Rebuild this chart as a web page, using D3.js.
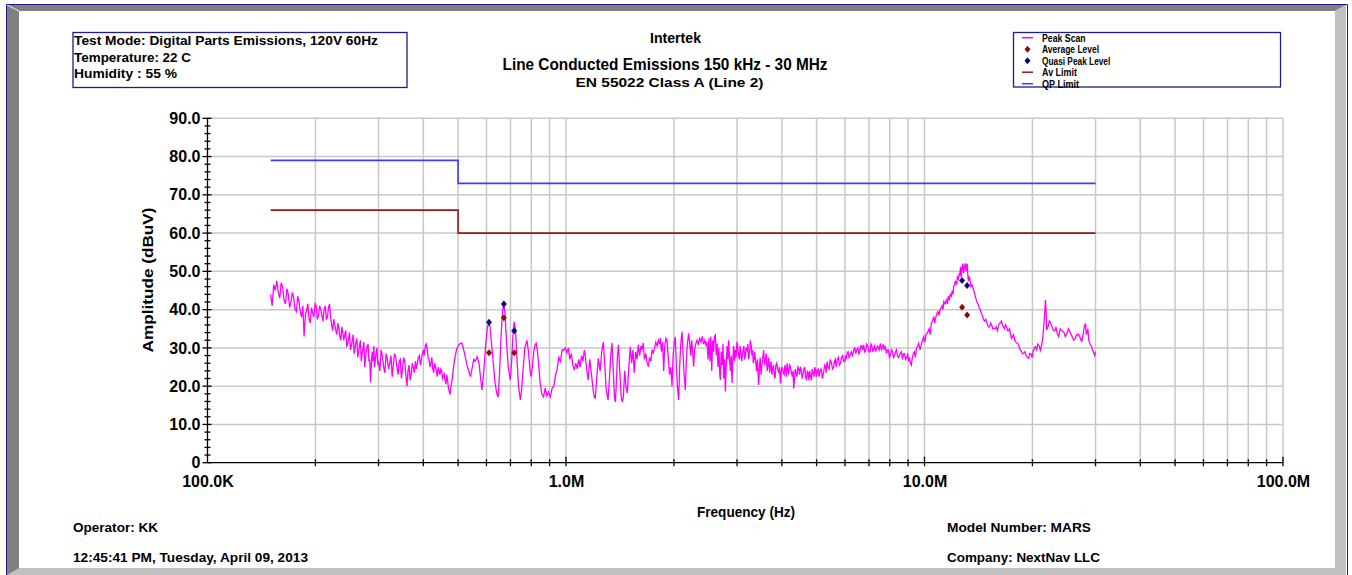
<!DOCTYPE html>
<html><head><meta charset="utf-8">
<script src="https://cdn.jsdelivr.net/npm/d3@7"></script>
<style>
body{margin:0;background:#fff}
svg{display:block}
text{font-family:"Liberation Sans",Arial,sans-serif;font-weight:bold;fill:#000}
</style>
</head><body>
<svg id="c" width="1352" height="575"></svg>
<script>
// ---------------- data ----------------
const infoLines = ["Test Mode: Digital Parts Emissions, 120V 60Hz", "Temperature: 22 C", "Humidity : 55 %"];
const titleLines = ["Intertek", "Line Conducted Emissions 150 kHz - 30 MHz", "EN 55022 Class A (Line 2)"];
const legendLabels = ["Peak Scan", "Average Level", "Quasi Peak Level", "Av Limit", "QP Limit"];
const footerLeft = ["Operator: KK", "12:45:41 PM, Tuesday, April 09, 2013"];
const footerRight = ["Model Number: MARS", "Company: NextNav LLC"];
const xAxisTitle = "Frequency (Hz)";
const yAxisTitle = "Amplitude (dBuV)";
const xTickValues = [0.1, 1, 10, 100];             // MHz
const xTickLabels = ["100.0K", "1.0M", "10.0M", "100.0M"];
const yTickValues = [0, 10, 20, 30, 40, 50, 60, 70, 80, 90];
const yTickLabels = ["0", "10.0", "20.0", "30.0", "40.0", "50.0", "60.0", "70.0", "80.0", "90.0"];

// limits (MHz, dBuV)
const qpLimit = [[0.15, 79], [0.5, 79], [0.5, 73], [30, 73]];
const avLimit = [[0.15, 66], [0.5, 66], [0.5, 60], [30, 60]];

// measured levels (MHz, dBuV)
const quasiPeak = [[0.610, 36.7], [0.671, 41.5], [0.717, 34.5], [12.73, 47.6], [13.15, 46.3]];
const averageLvl = [[0.610, 28.7], [0.671, 37.9], [0.717, 28.7], [12.73, 40.6], [13.15, 38.6]];

// peak scan trace (MHz, dBuV) - main read-off points
const peakScanMain = [
[0.150,44.0],[0.153,46.5],[0.156,47.5],[0.159,43.0],[0.162,46.0],[0.165,41.5],[0.168,44.0],[0.171,42.0],
[0.174,43.0],[0.177,39.5],[0.180,42.0],[0.183,38.0],[0.186,33.0],[0.189,40.0],[0.192,37.5],[0.195,40.5],
[0.198,38.0],[0.201,41.0],[0.204,38.5],[0.207,40.0],[0.210,37.0],[0.213,41.0],[0.216,38.0],[0.219,41.5],
[0.222,36.0],[0.225,37.5],[0.228,34.5],[0.231,36.5],[0.234,33.0],[0.237,35.5],[0.240,32.0],[0.243,34.5],
[0.246,31.0],[0.249,34.0],[0.252,30.5],[0.255,33.5],[0.258,30.0],[0.261,32.5],[0.264,29.0],[0.267,32.0],
[0.270,28.5],[0.273,31.5],[0.276,27.5],[0.279,30.5],[0.282,26.5],[0.285,21.0],[0.288,29.0],[0.291,30.5],
[0.294,27.0],[0.297,30.0],[0.300,26.0],
[0.305,29.5],[0.310,25.0],[0.315,28.5],[0.320,24.5],[0.325,28.0],[0.330,25.5],[0.335,27.5],[0.340,23.0],
[0.345,27.0],[0.350,24.5],[0.355,26.5],[0.360,20.0],[0.365,25.5],[0.370,23.0],[0.375,25.0],[0.380,26.5],
[0.385,26.0],[0.390,28.0],[0.395,27.0],[0.400,29.5],[0.405,30.5],[0.410,29.5],[0.415,27.0],[0.420,26.0],
[0.425,24.5],[0.430,26.0],[0.435,24.0],[0.440,25.0],[0.445,23.0],[0.450,24.0],[0.455,22.5],[0.460,21.5],
[0.465,23.0],[0.470,19.5],[0.475,18.0],[0.480,21.0],[0.485,24.5],[0.490,27.5],[0.495,29.5],[0.500,30.5],
[0.505,31.0],[0.512,31.3],[0.520,29.0],[0.528,26.0],[0.535,24.0],[0.541,22.5],[0.548,25.0],[0.553,27.0],
[0.558,26.5],[0.565,27.7],[0.572,26.0],[0.578,22.0],[0.583,19.0],[0.590,24.0],[0.597,31.0],[0.603,35.0],
[0.608,36.5],[0.614,35.5],[0.620,31.0],[0.627,26.0],[0.634,21.0],[0.641,18.0],[0.647,17.2],[0.653,24.0],
[0.659,33.0],[0.665,39.5],[0.670,41.6],[0.676,39.0],[0.683,31.0],[0.690,25.0],[0.699,21.6],[0.705,26.0],
[0.711,33.0],[0.717,36.8],[0.723,34.5],[0.730,27.0],[0.737,20.0],[0.746,16.4],[0.752,19.0],[0.760,25.0],
[0.768,30.0],[0.778,32.0],[0.786,29.0],[0.793,24.5],[0.799,22.5],[0.806,25.0],[0.813,29.0],[0.820,30.8],
[0.826,31.2],[0.833,29.0],[0.840,25.0],[0.848,20.5],[0.856,18.0],[0.866,17.2],[0.875,19.5],[0.884,17.5],
[0.893,18.5],[0.904,17.2],[0.915,19.5],[0.925,20.0],[0.935,23.0],[0.944,24.2],[0.955,27.5],[0.965,26.5],
[0.975,29.5],[0.985,29.4],[0.995,30.0],
[1.005,28.7],[1.015,30.0],[1.025,27.0],[1.035,28.5],[1.045,25.5],[1.055,24.2],[1.065,26.0],[1.075,24.5],
[1.085,27.0],[1.095,25.0],[1.105,28.0],[1.115,26.5],[1.125,29.4],[1.132,28.0],[1.140,25.0],[1.153,21.6],
[1.165,27.0],[1.178,23.0],[1.190,19.0],[1.200,17.0],[1.207,16.9],[1.218,22.0],[1.230,27.3],[1.245,24.0],
[1.258,29.0],[1.271,31.6],[1.282,26.0],[1.295,19.0],[1.310,16.4],[1.322,22.0],[1.333,28.0],[1.344,31.3],
[1.355,24.0],[1.365,17.0],[1.373,15.9],[1.382,21.0],[1.392,28.0],[1.401,30.8],[1.412,24.0],[1.425,17.5],
[1.435,15.9],[1.445,17.0],[1.458,24.0],[1.470,20.0],[1.483,18.2],[1.497,25.0],[1.511,30.3],[1.524,26.0],
[1.538,29.5],[1.550,23.5],[1.565,29.0],[1.578,27.0],[1.591,30.8],[1.605,28.0],[1.618,30.5],[1.630,29.5],
[1.643,31.3],[1.655,27.0],[1.670,28.5],[1.684,26.0],[1.697,25.1],[1.710,27.5],[1.724,26.5],[1.738,29.5],
[1.752,28.7],[1.766,30.0],[1.780,31.5],[1.795,30.5],[1.810,32.0],[1.823,31.0],[1.833,32.6],[1.846,29.0],
[1.860,31.5],[1.873,24.0],[1.886,30.5],[1.900,32.5],[1.913,32.0],[1.930,27.0],[1.945,23.0],[1.960,25.0],
[1.976,19.9],[1.990,28.0],[2.005,31.5],[2.018,32.9],
[2.030,26.0],[2.045,20.0],[2.062,16.4],[2.075,25.0],[2.090,31.0],[2.107,34.2],[2.120,29.0],[2.135,23.0],
[2.152,19.0],[2.165,26.0],[2.180,31.0],[2.198,33.8],[2.212,31.5],[2.228,28.0],[2.242,32.0],[2.256,29.0],
[2.270,25.1],[2.285,29.5],[2.300,31.0],[2.320,32.0],[2.340,31.0],[2.360,32.5],[2.380,31.5],[2.400,33.0],
[2.420,31.0],[2.440,32.0],[2.460,30.5],[2.474,31.6],[2.490,27.0],[2.505,32.5],[2.520,26.5],[2.535,33.0],
[2.550,24.0],[2.565,32.0],[2.580,29.0],[2.595,33.0],[2.610,33.4],[2.625,28.0],[2.640,31.0],[2.655,25.0],
[2.670,30.0],[2.685,23.0],[2.695,21.6],[2.710,29.0],[2.725,25.5],[2.740,31.0],[2.755,22.0],[2.770,27.0],
[2.783,18.6],[2.800,26.0],[2.815,30.5],[2.830,27.0],[2.842,32.0],[2.860,27.0],[2.875,24.0],[2.890,28.0],
[2.905,20.8],[2.920,27.0],[2.935,30.5],[2.950,26.5],[2.965,29.5],[2.980,27.5],[3.000,31.6],
[3.030,28.0],[3.060,30.5],[3.090,26.5],[3.120,29.5],[3.150,27.0],[3.180,30.0],[3.200,29.4],[3.230,27.0],
[3.267,32.0],[3.300,28.0],[3.330,26.0],[3.360,29.0],[3.400,24.0],[3.446,20.3],[3.480,27.5],[3.520,25.5],
[3.559,29.4],[3.600,27.0],[3.640,24.0],[3.680,27.5],[3.715,25.1],[3.750,23.0],[3.790,25.5],[3.830,22.0],
[3.870,26.0],[3.920,23.5],[3.963,20.8],[4.010,25.0],[4.060,23.0],[4.100,24.5],[4.137,26.0],[4.180,23.0],
[4.230,25.0],[4.280,22.5],[4.316,19.4],[4.360,24.5],[4.410,22.5],[4.460,24.5],[4.506,25.1],[4.560,22.0],
[4.610,24.5],[4.660,22.5],[4.710,24.0],[4.760,21.5],[4.806,22.9],[4.860,24.5],[4.920,22.5],[4.970,24.0],
[5.017,24.2],
[5.080,22.5],[5.150,24.5],[5.234,23.8],[5.300,25.0],[5.348,26.4],[5.420,24.5],[5.500,26.0],[5.580,25.0],
[5.640,27.0],[5.705,26.8],[5.790,25.5],[5.870,27.5],[5.950,26.5],[6.020,28.0],[6.081,28.6],[6.160,27.5],
[6.250,29.0],[6.346,29.4],[6.430,28.5],[6.520,30.0],[6.600,29.0],[6.680,30.5],[6.768,30.8],[6.860,29.5],
[6.950,30.5],[7.050,29.0],[7.130,30.5],[7.217,29.9],[7.300,29.0],[7.400,30.5],[7.534,31.2],[7.630,30.0],
[7.720,29.5],[7.830,28.5],[7.930,29.5],[8.035,28.1],[8.150,29.0],[8.250,28.0],[8.350,29.5],[8.460,27.5],
[8.567,28.6],[8.680,27.0],[8.800,28.5],[8.920,27.5],[9.030,26.5],[9.135,26.0],[9.250,27.5],[9.370,29.0],
[9.500,30.0],[9.634,31.2],[9.800,31.0],[9.950,32.9],
[10.10,33.5],[10.30,35.0],[10.45,36.5],[10.61,38.2],[10.75,38.0],[10.90,39.5],[11.05,40.0],[11.20,41.0],
[11.32,42.1],[11.50,42.5],[11.65,43.5],[11.80,44.0],[11.95,45.0],[12.06,46.0],[12.20,47.5],[12.35,48.5],
[12.50,49.5],[12.60,51.2],[12.70,50.0],[12.80,52.0],[12.90,50.5],[13.01,52.1],[13.10,51.0],[13.20,49.5],
[13.29,48.6],[13.40,47.5],[13.55,46.5],[13.72,45.1],[13.90,43.0],[14.10,41.5],[14.32,39.9],[14.50,38.5],
[14.70,37.0],[14.95,36.4],[15.20,35.5],[15.40,36.0],[15.61,35.1],[15.85,35.5],[16.10,36.0],[16.30,36.5],
[16.47,36.4],[16.70,35.0],[16.95,35.5],[17.15,34.5],[17.37,33.8],[17.60,33.0],[17.85,32.0],[18.13,31.2],
[18.40,30.0],[18.65,29.0],[18.92,28.6],[19.20,28.0],[19.53,27.3],[19.80,28.5],[20.10,29.0],[20.39,30.3],
[20.70,31.0],[21.06,29.4],[21.40,33.0],[21.75,42.5],[21.90,34.7],[22.30,37.0],[22.70,35.5],[23.10,34.5],
[23.44,33.8],[23.90,35.0],[24.45,34.2],[24.90,33.5],[25.50,34.0],[26.08,32.0],[26.60,33.5],[27.23,32.5],
[27.70,33.5],[28.12,36.4],[28.40,34.0],[28.72,32.0],[29.20,30.5],[29.66,28.6],[30.00,29.0]
];

// peak scan trace - additional read-off points in the noisy stretches
const peakScanDetail = [
[0.1515,41.0],[0.1545,45.0],[0.1575,44.5],[0.1605,47.0],[0.1635,42.5],[0.1665,45.5],[0.1695,40.5],[0.1725,44.5],
[0.1755,40.0],[0.1785,43.5],[0.1815,39.5],[0.1845,41.0],[0.1875,38.5],[0.1905,41.5],[0.1935,36.5],[0.1965,39.0],
[0.1995,41.5],[0.2025,37.5],[0.2055,41.0],[0.2085,38.5],[0.2115,40.0],[0.2145,37.5],[0.2175,40.5],[0.2205,38.0],
[0.2235,34.5],[0.2265,36.0],[0.2295,33.5],[0.2325,35.0],[0.2355,32.0],[0.2385,34.0],[0.2415,33.5],[0.2445,30.5],
[0.2475,32.5],[0.2505,29.5],[0.2535,32.0],[0.2565,28.5],[0.2595,31.5],[0.2625,27.5],[0.2655,30.5],[0.2685,26.5],
[0.2715,30.0],[0.2745,25.0],[0.2775,29.5],[0.2805,31.0],[0.2835,27.0],[0.2865,26.0],[0.2895,26.5],[0.2925,25.0],
[0.2955,29.0],[0.2985,25.5],
[0.3025,24.0],[0.3075,28.0],[0.3125,23.5],[0.3175,27.0],[0.3225,26.0],[0.3275,22.5],[0.3325,28.5],[0.3375,25.0],
[0.3425,26.5],[0.3475,22.0],[0.3525,27.5],[0.3575,23.0],[0.3625,24.0],[0.3675,21.5],[0.3725,26.0],[0.3775,23.5],
[0.3825,24.5],[0.3875,27.5],[0.3925,25.5],[0.3975,28.5],[0.4025,28.0],[0.4075,31.0],[0.4125,27.5],[0.4175,25.0],
[0.4225,27.5],[0.4275,23.5],[0.4325,25.0],[0.4375,22.5],[0.4425,24.0],[0.4475,24.5],[0.4525,22.0],[0.4575,23.5],
[0.4625,20.5],[0.4675,21.5],[0.4725,18.5],[0.4775,20.0],[0.4825,22.5],[0.4875,26.0],[0.4925,28.5],[0.4975,30.0],
[3.015,30.0],[3.045,27.0],[3.075,29.0],[3.105,28.0],[3.135,30.5],[3.165,28.0],[3.215,31.0],[3.250,28.5],
[3.285,30.5],[3.315,29.5],[3.345,27.0],[3.380,26.5],[3.420,27.0],[3.465,25.0],[3.500,23.0],[3.540,27.5],
[3.580,25.5],[3.620,28.5],[3.660,25.5],[3.700,23.5],[3.735,26.5],[3.770,24.5],[3.810,23.0],[3.850,25.5],
[3.895,24.5],[3.940,25.0],[3.985,24.0],[4.035,23.5],[4.080,25.5],[4.120,22.5],[4.160,24.5],[4.205,25.5],
[4.255,23.5],[4.300,24.0],[4.340,22.0],[4.385,23.5],[4.435,25.0],[4.485,23.0],[4.535,24.0],[4.585,23.0],
[4.635,25.0],[4.685,21.5],[4.735,23.5],[4.785,24.0],[4.835,21.5],[4.890,23.5],[4.945,25.0],[4.995,22.5],
[5.050,24.5],
[5.11,24.0],[5.19,22.0],[5.27,25.5],[5.32,23.5],[5.38,25.0],[5.46,27.0],[5.54,24.5],[5.61,26.5],
[5.67,25.0],[5.75,27.5],[5.83,26.0],[5.91,28.0],[5.99,26.5],[6.05,27.0],[6.12,29.0],[6.20,28.0],
[6.30,28.0],[6.39,30.0],[6.47,29.5],[6.56,28.5],[6.64,30.5],[6.72,29.5],[6.81,29.0],[6.90,31.0],
[7.00,29.0],[7.09,31.0],[7.17,29.0],[7.26,30.5],[7.35,30.0],[7.47,29.5],[7.58,29.5],[7.67,31.0],
[7.77,30.5],[7.88,29.5],[7.98,27.5],[8.09,29.5],[8.20,27.5],[8.30,29.0],[8.40,28.0],[8.51,28.0],
[8.62,29.0],[8.74,28.5],[8.86,27.0],[8.97,28.5],[9.08,27.5],[9.19,25.5],[9.31,28.5],[9.43,27.5],
[9.57,30.5],[9.72,29.5],[9.87,32.0],
[10.02,31.5],[10.20,34.0],[10.38,33.5],[10.53,37.0],[10.68,36.5],[10.83,39.0],[10.98,38.5],[11.12,40.5],
[11.26,40.0],[11.41,41.5],[11.58,41.5],[11.72,42.5],[11.88,43.5],[12.00,44.0],[12.13,46.5],[12.28,46.5],
[12.42,48.0],[12.55,49.0],[12.65,48.5],[12.75,51.5],[12.85,49.5],[12.95,51.5],[13.05,50.0],[13.15,52.0],
[13.25,47.5],[13.35,48.5],[13.48,46.0],[13.63,46.0],[13.81,44.0],[14.00,42.0],[14.21,40.5],[14.41,39.0],
[14.60,37.5],[14.82,37.5],[15.07,35.5],[15.30,36.5],[15.50,35.0],[15.73,35.0],[15.97,34.5],[16.20,36.5],
[16.38,37.0],[16.58,35.5],[16.83,36.0],[17.05,34.5],[17.26,35.0],[17.48,32.5],[17.72,33.5],[17.99,31.5],
[18.27,31.0],[18.52,29.5],[18.78,28.5],[19.06,29.0],[19.36,27.5],[19.66,28.5],[19.95,27.5],[20.25,30.0],
[20.55,29.5],[20.88,30.5],[21.25,31.0],[21.60,38.0],[21.83,40.0],[22.10,35.5],[22.50,36.5],[22.90,34.5],
[23.27,35.5],[23.67,33.0],[24.17,34.5],[24.70,33.0],[25.20,35.0],[25.80,33.0],[26.35,32.5],[26.90,33.5],
[27.45,31.5],[27.90,35.5],[28.26,33.5],[28.56,35.0],[28.95,31.0],[29.43,29.5],[29.85,28.0]
];

// ---------------- drawing ----------------
const peakScan = peakScanMain.concat(peakScanDetail).sort((a, b) => a[0] - b[0]);
const svg = d3.select("#c");
const W = 1352, H = 575;
const FONT = '"Liberation Sans",Arial,sans-serif';
svg.append("rect").attr("width", W).attr("height", H).attr("fill", "#fff");

// window-like bevelled frame
const fr = svg.append("g");
fr.append("polygon").attr("points", "7,5 19,11 19,575 7,575").attr("fill", "#808080");
fr.append("polygon").attr("points", "7,5 1346,5 1335,11 19,11").attr("fill", "#808080");
fr.append("polygon").attr("points", "1346,5 1346,575 1335,575 1335,11").attr("fill", "#c0c0c0");
fr.append("polygon").attr("points", "19,568 1335,568 1346,575 7,575").attr("fill", "#c0c0c0");
fr.append("line").attr("x1", 7).attr("y1", 5).attr("x2", 19).attr("y2", 11).attr("stroke", "#e8e8e8").attr("stroke-width", 1);
fr.append("path").attr("d", "M6.5,575 V4.5 H1347.5 V575").attr("fill", "none").attr("stroke", "#1c1c8c").attr("stroke-width", 1);

// scales
const x = d3.scaleLog().domain([0.1, 100]).range([207.5, 1283]);
const y = d3.scaleLinear().domain([0, 90]).range([462.7, 118.3]);

// grid
const grid = svg.append("g").attr("stroke", "#c8c8c8").attr("stroke-width", 1.5);
x.ticks().filter(v => v > 0.1).forEach(v => {
  grid.append("line").attr("x1", x(v)).attr("x2", x(v)).attr("y1", y(90)).attr("y2", y(0));
});
yTickValues.filter(v => v > 0).forEach(v => {
  grid.append("line").attr("x1", x(0.1)).attr("x2", x(100)).attr("y1", y(v)).attr("y2", y(v));
});

// limit lines
const line = d3.line().x(d => x(d[0])).y(d => y(d[1]));
svg.append("path").attr("d", line(avLimit)).attr("fill", "none").attr("stroke", "#a01414").attr("stroke-width", 1.6);
svg.append("path").attr("d", line(qpLimit)).attr("fill", "none").attr("stroke", "#3c3cff").attr("stroke-width", 1.6);

// peak scan
svg.append("path").attr("d", line(peakScan)).attr("fill", "none").attr("stroke", "#ff00ff")
  .attr("stroke-width", 1.3).attr("stroke-linejoin", "miter");

// markers
function diamond(cx, cy, r) {
  return `M${cx},${cy - r - 0.5} L${cx + r},${cy} L${cx},${cy + r + 0.5} L${cx - r},${cy} Z`;
}
svg.append("g").selectAll("path").data(averageLvl).join("path")
  .attr("d", d => diamond(x(d[0]), y(d[1]), 3)).attr("fill", "#8b0a0a");
svg.append("g").selectAll("path").data(quasiPeak).join("path")
  .attr("d", d => diamond(x(d[0]), y(d[1]), 3)).attr("fill", "#0a0a80");

// axes
const xAxis = d3.axisBottom(x).tickValues(xTickValues)
  .tickFormat((d, i) => xTickLabels[i]).tickSize(0).tickPadding(13);
const gx = svg.append("g").attr("transform", `translate(0,${y(0)})`).call(xAxis);
gx.select(".domain").remove();
gx.selectAll("text").attr("font-size", 16).attr("font-family", FONT).attr("font-weight", "bold").attr("fill", "#000");

const yAxis = d3.axisLeft(y).tickValues(yTickValues)
  .tickFormat((d, i) => yTickLabels[i]).tickSize(0).tickPadding(7);
const gy = svg.append("g").attr("transform", `translate(${x(0.1)},0)`).call(yAxis);
gy.select(".domain").remove();
gy.selectAll("text").attr("font-size", 16).attr("font-family", FONT).attr("font-weight", "bold").attr("fill", "#000");

// axis lines and tick marks
const ax = svg.append("g").attr("stroke", "#000").attr("stroke-width", 1.3);
ax.append("line").attr("x1", x(0.1)).attr("x2", x(100)).attr("y1", y(0)).attr("y2", y(0));
ax.append("line").attr("x1", x(0.1)).attr("x2", x(0.1)).attr("y1", y(0)).attr("y2", y(90));
x.ticks().filter(v => v > 0.1).forEach(v => {
  const major = xTickValues.includes(v);
  ax.append("line").attr("x1", x(v)).attr("x2", x(v)).attr("y1", y(0) - (major ? 6 : 3.5)).attr("y2", y(0) + 3.5);
});
d3.range(0, 91, 2).forEach(v => {
  const major = v % 10 === 0;
  ax.append("line").attr("x1", x(0.1) - (major ? 5 : 3)).attr("x2", x(0.1) + (major ? 4 : 3)).attr("y1", y(v)).attr("y2", y(v));
});

// axis titles
svg.append("text").attr("x", 746).attr("y", 517).attr("text-anchor", "middle").attr("font-size", 14)
  .attr("textLength", 98).attr("lengthAdjust", "spacingAndGlyphs").text(xAxisTitle);
svg.append("text").attr("transform", "translate(153,280) rotate(-90)").attr("text-anchor", "middle")
  .attr("font-size", 14).attr("textLength", 145).attr("lengthAdjust", "spacingAndGlyphs").text(yAxisTitle);

// titles
const titleSpecs = [{cx: 675.5, y: 43.3, fs: 15, w: 51}, {cx: 665, y: 70, fs: 16, w: 325}, {cx: 669.5, y: 86.7, fs: 12, w: 188}];
titleLines.forEach((t, i) => {
  const s = titleSpecs[i];
  svg.append("text").attr("x", s.cx - s.w / 2).attr("y", s.y).attr("font-size", s.fs)
    .attr("textLength", s.w).attr("lengthAdjust", "spacingAndGlyphs").text(t);
});

// info box
svg.append("rect").attr("x", 73).attr("y", 32.5).attr("width", 334).attr("height", 55)
  .attr("fill", "none").attr("stroke", "#1c1c8c").attr("stroke-width", 1.3);
const infoW = [304, 117, 103];
const infoY = [45.3, 62, 78.3];
infoLines.forEach((t, i) => {
  svg.append("text").attr("x", 74).attr("y", infoY[i]).attr("font-size", 13.5)
    .attr("textLength", infoW[i]).attr("lengthAdjust", "spacingAndGlyphs").text(t);
});

// legend box
svg.append("rect").attr("x", 1013.5).attr("y", 32.5).attr("width", 267).attr("height", 54.5)
  .attr("fill", "none").attr("stroke", "#1c1c8c").attr("stroke-width", 1.3);
const legY = [37.7, 49.3, 60.7, 72.2, 83.7];
const legW = [43.7, 57, 68.3, 35, 37];
legendLabels.forEach((t, i) => {
  svg.append("text").attr("x", 1042).attr("y", legY[i] + 4).attr("font-size", 10.5)
    .attr("textLength", legW[i]).attr("lengthAdjust", "spacingAndGlyphs").text(t);
});
const lg = svg.append("g");
lg.append("line").attr("x1", 1022).attr("x2", 1033).attr("y1", legY[0]).attr("y2", legY[0]).attr("stroke", "#ff00ff").attr("stroke-width", 1.5);
lg.append("path").attr("d", diamond(1027.5, legY[1], 3)).attr("fill", "#8b0a0a");
lg.append("path").attr("d", diamond(1027.5, legY[2], 3)).attr("fill", "#0a0a80");
lg.append("line").attr("x1", 1022).attr("x2", 1033).attr("y1", legY[3]).attr("y2", legY[3]).attr("stroke", "#a01414").attr("stroke-width", 1.5);
lg.append("line").attr("x1", 1022).attr("x2", 1033).attr("y1", legY[4]).attr("y2", legY[4]).attr("stroke", "#3c3cff").attr("stroke-width", 1.5);

// footer
const footY = [532, 562];
const footLeftW = [85, 235];
const footRightW = [144, 153];
footerLeft.forEach((t, i) => {
  svg.append("text").attr("x", 73).attr("y", footY[i]).attr("font-size", 13.5)
    .attr("textLength", footLeftW[i]).attr("lengthAdjust", "spacingAndGlyphs").text(t);
});
footerRight.forEach((t, i) => {
  svg.append("text").attr("x", 947).attr("y", footY[i]).attr("font-size", 13.5)
    .attr("textLength", footRightW[i]).attr("lengthAdjust", "spacingAndGlyphs").text(t);
});
</script>
</body></html>
